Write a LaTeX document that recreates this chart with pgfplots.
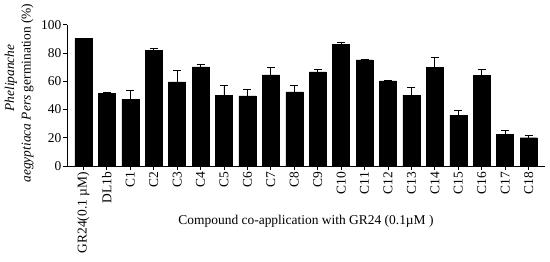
\documentclass[border=0pt]{standalone}
\usepackage{fontspec}
\setmainfont{Liberation Serif}
\usepackage{pgfplots}
\pgfplotsset{compat=1.18}
\usepackage{pgfplotstable}
\pgfplotstableread{
x y e
0 90.1 0.5
1 51.2 1.2
2 47.3 5.9
3 81.9 1.6
4 59.5 8.3
5 70.1 1.7
6 50.1 6.6
7 49.6 4.3
8 64.5 5.6
9 52.5 4.4
10 66.6 1.9
11 85.9 1.6
12 75.1 0.3
13 60.2 0.5
14 50.1 5.2
15 69.9 7.3
16 36.0 3.5
17 64.2 4.3
18 22.4 2.8
19 20.0 1.4
}\datatable
\begin{document}
\fontsize{13.5}{16}\selectfont
\begin{tikzpicture}
\useasboundingbox (-67bp,-96bp) rectangle (483bp,166bp);
\begin{axis}[
  at={(0,0)}, anchor=south west,
  scale only axis,
  width=478bp, height=141.3bp,
  xmin=-0.7, xmax=19.7,
  ymin=0, ymax=100,
  axis x line*=bottom, axis y line*=left,
  axis line style={line width=0.9bp, black},
  ytick={0,20,...,100},
  xtick={0,...,19},
  xticklabels={GR24(0.1 µM),DL1b,C1,C2,C3,C4,C5,C6,C7,C8,C9,C10,C11,C12,C13,C14,C15,C16,C17,C18},
  x tick label style={rotate=90, anchor=east, font=\fontsize{13.5}{16}\selectfont},
  y tick label style={font=\fontsize{13.5}{16}\selectfont},
  /pgf/number format/assume math mode=true,
  tick align=outside,
  major tick length=4bp,
  tick style={line width=0.8bp, black},
  xticklabel style={inner sep=2bp},
  yticklabel style={inner sep=1.5bp},
  ybar, bar width=17bp,
  clip=false,
]
\addplot[fill=black, draw=black,
  error bars/.cd, y dir=plus, y explicit,
  error bar style={line width=0.8bp, black},
  error mark options={rotate=90, line width=0.8bp, black, mark size=4bp}]
  table[x=x, y=y, y error=e] {\datatable};
\end{axis}
\node[font=\fontsize{13.5}{16}\selectfont] at (239bp,-55bp) {Compound co-application with GR24 (0.1µM )};
\node[rotate=90, font=\fontsize{13.5}{16}\selectfont\itshape] at (-56bp,88bp) {Phelipanche};
\node[rotate=90, font=\fontsize{13.5}{16}\selectfont] at (-39.5bp,73bp) {\textit{aegyptiaca Pers} germination (\%)};
\end{tikzpicture}
\end{document}
